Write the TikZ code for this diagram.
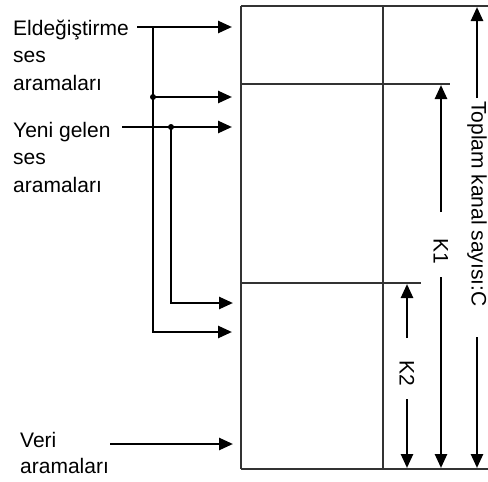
\documentclass[tikz,border=0pt]{standalone}
\usepackage{fontspec}
\setmainfont{Liberation Sans}
\usetikzlibrary{arrows.meta}
\begin{document}
\begin{tikzpicture}[x=1pt,y=-1pt,
  boxline/.style={line width=2pt, draw=black!80},
  conn/.style={line width=2.6pt},
  arr/.style={conn, -{Triangle[length=14pt,width=12pt]}},
  lbl/.style={font=\fontsize{21}{27.5}\selectfont, align=left, inner sep=0pt, anchor=base west},
  vlbl/.style={font=\fontsize{21}{24}\selectfont, inner sep=0pt, rotate=-90, anchor=base west},
  jdot/.style={circle, fill=black, inner sep=0pt, minimum size=6pt}]
\useasboundingbox (0,0) rectangle (488,482);
% box
\coordinate (bTL) at (241,6);
\coordinate (bTR) at (488,6);
\coordinate (bBL) at (241,469);
\coordinate (bBR) at (488,469);
\coordinate (iT) at (383,6);
\coordinate (iB) at (383,469);
\coordinate (m1L) at (241,84);
\coordinate (m1R) at (450,84);
\coordinate (m2L) at (241,283);
\coordinate (m2R) at (421,283);
\draw[boxline] (bTL) -- (bTR);
\draw[boxline] (bBL) -- (bBR);
\draw[boxline] (bTL) -- (bBL);
\draw[boxline] (iT) -- (iB);
\draw[boxline] (m1L) -- (m1R);
\draw[boxline] (m2L) -- (m2R);
% labels (base anchor = last line)
\node[lbl] (eld) at (13,90) {Eldeğiştirme\\ses\\aramaları};
\node[lbl] (yeni) at (13,192) {Yeni gelen\\ses\\aramaları};
\node[lbl, font=\fontsize{21}{26}\selectfont] (veri) at (20,473) {Veri\\aramaları};
\node[vlbl] (top) at (471.5,101) {Toplam kanal sayısı:C};
\node[vlbl] (k1) at (433.5,238) {K1};
\node[vlbl] (k2) at (399.5,360) {K2};
% dimension arrows
\coordinate (tA) at (477,98);
\coordinate (tAe) at (477,7);
\coordinate (tB) at (477,337);
\coordinate (tBe) at (477,468);
\coordinate (k1A) at (441,212);
\coordinate (k1Ae) at (441,85);
\coordinate (k1B) at (441,277);
\coordinate (k1Be) at (441,468);
\coordinate (k2A) at (407,338);
\coordinate (k2Ae) at (407,284);
\coordinate (k2B) at (407,399);
\coordinate (k2Be) at (407,468);
\draw[arr] (tA) -- (tAe);
\draw[arr] (tB) -- (tBe);
\draw[arr] (k1A) -- (k1Ae);
\draw[arr] (k1B) -- (k1Be);
\draw[arr] (k2A) -- (k2Ae);
\draw[arr] (k2B) -- (k2Be);
% input arrows
\coordinate (e0) at (137,27);
\coordinate (eT) at (232,27);
\coordinate (j0) at (153,27);
\coordinate (jb) at (153,332);
\coordinate (eT3) at (232,332);
\node[jdot] (j1) at (153,97) {};
\coordinate (eT2) at (232,97);
\coordinate (y0) at (122,127);
\coordinate (yT) at (232,127);
\node[jdot] (j2) at (171,127) {};
\coordinate (jc) at (171,303);
\coordinate (yT2) at (233,303);
\coordinate (v0) at (110,444);
\coordinate (vT) at (233,444);
\draw[arr] (e0) -- (eT);
\draw[arr] (j0) -- (jb) -- (eT3);
\draw[arr] (j1.center) -- (eT2);
\draw[arr] (y0) -- (yT);
\draw[arr] (j2.center) -- (jc) -- (yT2);
\draw[arr] (v0) -- (vT);
\end{tikzpicture}
\end{document}
